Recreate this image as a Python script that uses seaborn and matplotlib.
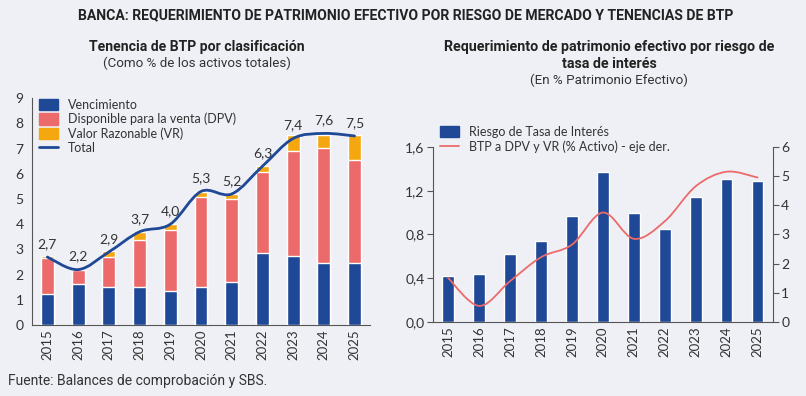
import matplotlib
matplotlib.use("Agg")
import matplotlib.pyplot as plt
import seaborn as sns
import numpy as np
import pandas as pd
from matplotlib.path import Path
from matplotlib.patches import PathPatch, Patch
from matplotlib.lines import Line2D
from matplotlib.ticker import FixedLocator, FuncFormatter

# ---- data ----
years = ["2015", "2016", "2017", "2018", "2019", "2020", "2021", "2022", "2023", "2024", "2025"]

# left: BTP holdings by classification (% of total assets)
vencimiento = [1.22, 1.65, 1.53, 1.53, 1.37, 1.50, 1.70, 2.84, 2.76, 2.46, 2.45]
dpv = [1.43, 0.52, 1.17, 1.86, 2.42, 3.57, 3.32, 3.25, 4.13, 4.58, 4.08]
vr = [0.10, 0.03, 0.22, 0.32, 0.22, 0.19, 0.18, 0.20, 0.63, 0.48, 0.99]
total = [2.7, 2.2, 2.9, 3.7, 4.0, 5.3, 5.2, 6.3, 7.4, 7.6, 7.5]
total_labels = ["2,7", "2,2", "2,9", "3,7", "4,0", "5,3", "5,2", "6,3", "7,4", "7,6", "7,5"]

# right: capital requirement for interest-rate risk (% effective equity)
riesgo_tasa = [0.42, 0.44, 0.62, 0.74, 0.97, 1.37, 1.00, 0.85, 1.14, 1.31, 1.29]
btp_dpv_vr = [1.50, 0.55, 1.40, 2.22, 2.65, 3.75, 2.85, 3.45, 4.65, 5.15, 4.95]

BLUE = "#1F4896"
RED = "#EC6A6A"
ORANGE = "#F5A70F"
BG = "#EEF0F6"
TXT = "#333333"


def smooth_path(ax, xs, ys, color, lw):
    """Catmull-Rom style smooth curve through the points, drawn as bezier path."""
    pts = np.column_stack([xs, ys]).astype(float)
    verts = [pts[0]]
    codes = [Path.MOVETO]
    n = len(pts)
    for i in range(n - 1):
        p0 = pts[i - 1] if i > 0 else pts[i]
        p1 = pts[i]
        p2 = pts[i + 1]
        p3 = pts[i + 2] if i + 2 < n else pts[i + 1]
        c1 = p1 + (p2 - p0) / 6.0
        c2 = p2 - (p3 - p1) / 6.0
        verts += [c1, c2, p2]
        codes += [Path.CURVE4] * 3
    patch = PathPatch(Path(verts, codes), facecolor="none", edgecolor=color,
                      lw=lw, transform=ax.transData, zorder=5, capstyle="round")
    ax.add_patch(patch)


def style_axes(ax):
    ax.set_facecolor(BG)
    ax.set_xlim(-0.5, len(years) - 0.5)
    ax.set_xlabel("")
    ax.set_ylabel("")
    ax.tick_params(axis="x", which="major", length=0, rotation=90, labelsize=9.5,
                   colors=TXT, pad=3)
    ax.xaxis.set_minor_locator(FixedLocator(np.arange(-0.5, len(years), 1.0)))
    ax.tick_params(axis="x", which="minor", length=4, direction="out", color="#555555")
    ax.tick_params(axis="y", length=4, direction="out", labelsize=10, colors=TXT,
                   color="#555555", pad=2)
    for s in ["top", "right"]:
        ax.spines[s].set_visible(False)
    for s in ["left", "bottom"]:
        ax.spines[s].set_color("#555555")
        ax.spines[s].set_linewidth(0.8)
    ax.grid(False)


sns.set_style("white")
plt.rcParams["font.family"] = ["Lato", "DejaVu Sans"]
plt.rcParams["figure.facecolor"] = BG
plt.rcParams["savefig.facecolor"] = BG

fig = plt.figure(figsize=(8.06, 3.96), dpi=100)

# ---------- left chart ----------
df_left = pd.DataFrame({
    "year": years,
    "venc": vencimiento,
    "venc_dpv": np.add(vencimiento, dpv),
    "venc_dpv_vr": np.add(np.add(vencimiento, dpv), vr),
})

ax1 = fig.add_axes([0.0397, 0.179, 0.4193, 0.5732])
sns.barplot(data=df_left, x="year", y="venc_dpv_vr", color=ORANGE, width=0.42,
            saturation=1, ax=ax1, zorder=2)
sns.barplot(data=df_left, x="year", y="venc_dpv", color=RED, width=0.42,
            saturation=1, ax=ax1, zorder=3)
sns.barplot(data=df_left, x="year", y="venc", color=BLUE, width=0.42,
            saturation=1, ax=ax1, zorder=4)
smooth_path(ax1, np.arange(len(years)), total, BLUE, 2.0)
for i, (v, lab) in enumerate(zip(total, total_labels)):
    ax1.text(i, v + 0.52, lab, ha="center", va="center", fontsize=10, color=TXT)

style_axes(ax1)
ax1.set_ylim(0, 9)
ax1.set_yticks(range(0, 10))

handles1 = [Patch(color=BLUE), Patch(color=RED), Patch(color=ORANGE),
            Line2D([], [], color=BLUE, lw=2)]
labels1 = ["Vencimiento", "Disponible para la venta (DPV)", "Valor Razonable (VR)", "Total"]
ax1.legend(handles1, labels1, loc="upper left", bbox_to_anchor=(0.0, 1.03), frameon=False,
           fontsize=9, handlelength=1.5, handleheight=1.0, handletextpad=0.8,
           labelspacing=0.15, borderaxespad=0.2, labelcolor=TXT)

# ---------- right chart ----------
df_right = pd.DataFrame({"year": years, "riesgo": riesgo_tasa, "btp": btp_dpv_vr})

ax2 = fig.add_axes([0.537, 0.187, 0.422, 0.442])
sns.barplot(data=df_right, x="year", y="riesgo", color=BLUE, width=0.38,
            saturation=1, ax=ax2, zorder=2)
style_axes(ax2)
ax2.set_ylim(0, 1.6)
ax2.set_yticks([0, 0.4, 0.8, 1.2, 1.6])
ax2.yaxis.set_major_formatter(FuncFormatter(lambda v, p: f"{v:.1f}".replace(".", ",")))

ax3 = ax2.twinx()
ax3.set_ylim(0, 6)
ax3.set_yticks(range(0, 7))
smooth_path(ax3, np.arange(len(years)), btp_dpv_vr, RED, 1.3)
ax3.set_xlim(-0.5, len(years) - 0.5)
ax3.tick_params(axis="y", length=4, direction="out", labelsize=10, colors=TXT,
                color="#555555", pad=2)
for s in ["top", "left", "bottom"]:
    ax3.spines[s].set_visible(False)
ax3.spines["right"].set_color("#555555")
ax3.spines["right"].set_linewidth(0.8)
ax3.grid(False)

handles2 = [Patch(color=BLUE), Line2D([], [], color=RED, lw=1.3)]
labels2 = ["Riesgo de Tasa de Interés", "BTP a DPV y VR (% Activo) - eje der."]
ax3.legend(handles2, labels2, loc="lower left", bbox_to_anchor=(0.0, 0.925), frameon=False,
           fontsize=9, handlelength=1.5, handleheight=1.0, handletextpad=0.8,
           labelspacing=0.15, borderaxespad=0.2, labelcolor=TXT)

# ---------- titles ----------
head = ["Roboto", "DejaVu Sans"]
fig.text(0.503, 0.962, "BANCA: REQUERIMIENTO DE PATRIMONIO EFECTIVO POR RIESGO DE MERCADO Y TENENCIAS DE BTP",
         ha="center", va="center", fontsize=10.1, fontweight="bold", family=head, color="#222222")
fig.text(0.244, 0.881, "Tenencia de BTP por clasificación", ha="center", va="center",
         fontsize=10.1, fontweight="bold", family=head, color="#222222")
fig.text(0.244, 0.840, "(Como % de los activos totales)", ha="center", va="center",
         fontsize=9.6, family=head, color=TXT)
fig.text(0.756, 0.881, "Requerimiento de patrimonio efectivo por riesgo de", ha="center", va="center",
         fontsize=10.3, fontweight="bold", family=head, color="#222222")
fig.text(0.756, 0.838, "tasa de interés", ha="center", va="center",
         fontsize=10.3, fontweight="bold", family=head, color="#222222")
fig.text(0.756, 0.797, "(En % Patrimonio Efectivo)", ha="center", va="center",
         fontsize=9.6, family=head, color=TXT)
fig.text(0.010, 0.038, "Fuente: Balances de comprobación y SBS.", ha="left", va="center",
         fontsize=10, family=head, color=TXT)

fig.savefig("out.png", dpi=100, facecolor=BG)
